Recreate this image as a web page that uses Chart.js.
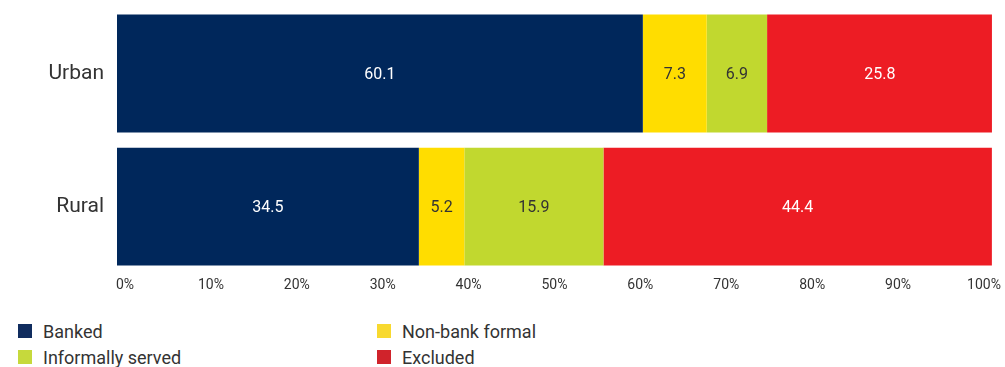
<!DOCTYPE html>
<html>
<head>
<meta charset="utf-8">
<script src="https://cdn.jsdelivr.net/npm/chart.js@4"></script>
<style>
    body { margin: 0; background: #fff; }
    #wrap { position: relative; width: 1005px; height: 300px; }
    #legend {
        position: absolute; left: 18px; top: 321px;
        display: grid; grid-template-columns: 359px 359px; row-gap: 6px;
        font-family: "Roboto", sans-serif;
        font-size: 18px; color: #333;
    }
    .item { display: flex; align-items: center; height: 20px; }
    .swatch { width: 14px; height: 14px; margin-right: 11px; }
</style>
</head>
<body>
<div id="wrap"><canvas id="chart"></canvas></div>
<div id="legend"></div>
<script>
// Share of adults by access strand, %
const regions = ["Urban", "Rural"];
const banked = [60.1, 34.5];
const nonBankFormal = [7.3, 5.2];
const informallyServed = [6.9, 15.9];
const excluded = [25.8, 44.4];
const tickValues = [0, 10, 20, 30, 40, 50, 60, 70, 80, 90, 100];

const seriesNames = ["Banked", "Non-bank formal", "Informally served", "Excluded"];
const seriesColors = ["#00275B", "#FFDD00", "#C1D82F", "#ED1C24"];
const swatchColors = ["#102C5E", "#F8D92F", "#C6D93C", "#D0232B"];
const valueColors = ["#ffffff", "#333333", "#333333", "#ffffff"];

// writes each segment's value in the middle of the bar
const barValues = {
    id: "barValues",
    afterDatasetsDraw(chart) {
        const ctx = chart.ctx;
        ctx.save();
        ctx.font = "16px Roboto";
        ctx.textAlign = "center";
        ctx.textBaseline = "middle";
        chart.data.datasets.forEach((ds, i) => {
            const meta = chart.getDatasetMeta(i);
            meta.data.forEach((bar, j) => {
                ctx.fillStyle = valueColors[i];
                ctx.fillText(ds.data[j].toFixed(1), (bar.x + bar.base) / 2, bar.y + 1);
            });
        });
        ctx.restore();
    }
};

const chart = new Chart(document.getElementById("chart"), {
    type: "bar",
    data: {
        labels: regions,
        datasets: [banked, nonBankFormal, informallyServed, excluded].map((data, i) => ({
            label: seriesNames[i],
            data: data,
            backgroundColor: seriesColors[i],
            borderWidth: 0,
            barPercentage: 0.886,
            categoryPercentage: 1
        }))
    },
    options: {
        indexAxis: "y",
        responsive: true,
        maintainAspectRatio: false,
        animation: false,
        layout: { padding: { top: 7, right: 12, bottom: 2, left: 0 } },
        plugins: { legend: { display: false }, tooltip: { enabled: false } },
        scales: {
            x: { stacked: true, min: 0, max: 100, display: false },
            // percent labels sit slightly inside the bar ends
            xt: {
                type: "linear",
                position: "bottom",
                min: -0.93,
                max: 100.93,
                afterBuildTicks: scale => { scale.ticks = tickValues.map(v => ({ value: v })); },
                grid: { display: false, drawTicks: false },
                border: { display: false },
                ticks: {
                    padding: 4,
                    maxRotation: 0,
                    autoSkip: false,
                    color: "#333",
                    font: { family: "Roboto", size: 14 },
                    callback: v => v + "%"
                }
            },
            y: {
                stacked: true,
                grid: { display: false, drawTicks: false },
                border: { display: false },
                afterFit: scale => {
                    scale.width = 117;
                    scale.paddingTop = 0;
                    scale.paddingBottom = 0;
                },
                ticks: {
                    padding: 13,
                    color: "#333",
                    font: { family: "Roboto", size: 21 }
                }
            }
        }
    },
    plugins: [barValues]
});

// legend in two columns below the chart
const legend = document.getElementById("legend");
chart.data.datasets.forEach((ds, i) => {
    const item = document.createElement("div");
    item.className = "item";
    item.innerHTML = `<span class="swatch" style="background:${swatchColors[i]}"></span>${ds.label}`;
    legend.appendChild(item);
});
</script>
</body>
</html>
